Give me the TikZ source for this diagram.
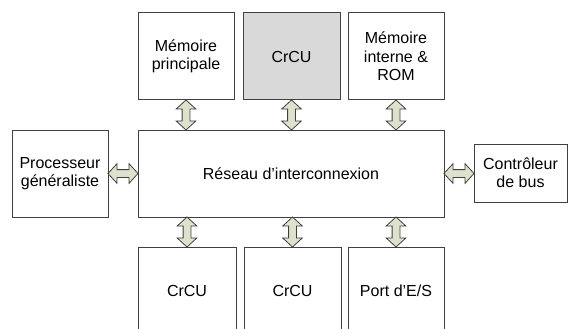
\documentclass[tikz,border=0pt]{standalone}
\usepackage{fontspec}
\setmainfont{Liberation Sans}
\usetikzlibrary{shapes.arrows}
\definecolor{boxline}{RGB}{64,64,64}
\definecolor{boxgray}{RGB}{217,217,217}
\definecolor{arrowfill}{RGB}{221,226,204}
\tikzset{
  bloc/.style={draw=boxline, line width=1pt, align=center, inner sep=0pt, outer sep=0pt,
    minimum width=96pt, minimum height=87pt, font=\fontsize{16}{18.5}\selectfont},
  fleche/.style={double arrow, draw=boxline, fill=arrowfill, line width=0.8pt,
    inner xsep=0pt, inner ysep=3.5pt, outer sep=0pt, minimum height=30pt,
    double arrow head extend=6pt, double arrow tip angle=95}
}
\begin{document}
\begin{tikzpicture}[x=1pt,y=-1pt]
  \clip (0,0) rectangle (568,329);
  \node[bloc] (mp) at (186,56.5) {Mémoire\\principale};
  \node[bloc, fill=boxgray, minimum width=97pt] (crcu) at (291.5,56.5) {CrCU};
  \node[bloc] (mi) at (396,56.5) {Mémoire\\interne \&\\ROM};
  \node[bloc, minimum width=306pt] (res) at (291,173.5) {Réseau d’interconnexion};
  \node[bloc] (proc) at (60,173.5) {Processeur\\généraliste};
  \node[bloc, minimum width=93pt, minimum height=58pt] (ctrl) at (520.5,173) {Contrôleur\\de bus};
  \node[bloc, minimum width=98pt] (crcua) at (187,290.5) {CrCU};
  \node[bloc, minimum width=97pt] (crcub) at (292.5,290.5) {CrCU};
  \node[bloc] (port) at (396,290.5) {Port d’E/S};

  \path (mp.south) -- (mp.south |- res.north) node[midway, fleche, rotate=90] {};
  \path (crcu.south) -- (crcu.south |- res.north) node[midway, fleche, rotate=90] {};
  \path (mi.south) -- (mi.south |- res.north) node[midway, fleche, rotate=90] {};
  \path (crcua.north) -- (crcua.north |- res.south) node[midway, fleche, rotate=90] {};
  \path (crcub.north) -- (crcub.north |- res.south) node[midway, fleche, rotate=90] {};
  \path (port.north) -- (port.north |- res.south) node[midway, fleche, rotate=90] {};
  \path (proc.east) -- (res.west) node[midway, fleche] {};
  \path (res.east) -- (res.east -| ctrl.west) node[midway, fleche] {};
\end{tikzpicture}
\end{document}
